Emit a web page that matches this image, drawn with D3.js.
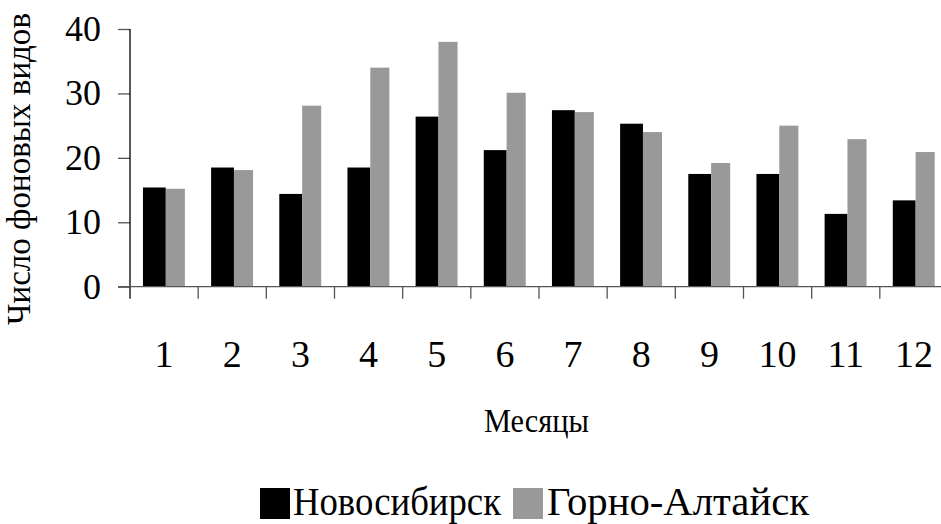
<!DOCTYPE html>
<html>
<head>
<meta charset="utf-8">
<script src="https://cdn.jsdelivr.net/npm/d3@7"></script>
<style>
  body { margin: 0; background: #fff; }
  svg { display: block; }
</style>
</head>
<body>
<div class="chart"></div>
<script>
const months = ["1", "2", "3", "4", "5", "6", "7", "8", "9", "10", "11", "12"];
const novosibirsk = [15.4, 18.5, 14.4, 18.5, 26.4, 21.2, 27.4, 25.3, 17.5, 17.5, 11.3, 13.4];
const gornoAltaysk = [15.2, 18.1, 28.1, 34.0, 38.0, 30.1, 27.1, 24.0, 19.2, 25.0, 22.9, 20.9];
const yTicks = [0, 10, 20, 30, 40];
const seriesNames = ["Новосибирск", "Горно-Алтайск"];
const seriesColors = ["#000000", "#999999"];

const width = 941, height = 524;
const serif = "'Liberation Serif'";

const svg = d3.select(".chart").append("svg")
    .attr("width", width)
    .attr("height", height)
    .attr("viewBox", [0, 0, width, height]);

const x = d3.scaleBand().domain(months).range([130, 948]);
const y = d3.scaleLinear().domain([0, 40]).range([286.7, 29]);
const bw = x.bandwidth();

// bars: black one a bit wider than the grey one, as in the picture
const bars = svg.append("g");
bars.selectAll("rect.nsk")
    .data(months)
    .join("rect")
    .attr("class", "nsk")
    .attr("x", d => x(d) + bw * 0.19)
    .attr("width", bw * 0.335)
    .attr("y", (d, i) => y(novosibirsk[i]))
    .attr("height", (d, i) => y(0) - y(novosibirsk[i]))
    .attr("fill", seriesColors[0]);

bars.selectAll("rect.ga")
    .data(months)
    .join("rect")
    .attr("class", "ga")
    .attr("x", d => x(d) + bw * 0.525)
    .attr("width", bw * 0.28)
    .attr("y", (d, i) => y(gornoAltaysk[i]))
    .attr("height", (d, i) => y(0) - y(gornoAltaysk[i]))
    .attr("fill", seriesColors[1]);

/* y axis */
const yAxis = svg.append("g")
    .attr("transform", "translate(130,0)")
    .call(d3.axisLeft(y).tickValues(yTicks).tickSize(12).tickPadding(17))
    .call(g => g.select(".domain").remove());
yAxis.selectAll(".tick line").attr("stroke", "#555").attr("stroke-width", 1.3);
yAxis.selectAll(".tick text")
    .style("font-family", serif)
    .style("font-size", "36px")
    .attr("fill", "#000");

svg.append("line")
    .attr("x1", 130).attr("x2", 130)
    .attr("y1", y(40)).attr("y2", y(0) + 12)
    .attr("stroke", "#000").attr("stroke-width", 1.3);

/* x axis */
svg.append("line")
    .attr("x1", 118).attr("x2", 948)
    .attr("y1", y(0)).attr("y2", y(0))
    .attr("stroke", "#555").attr("stroke-width", 1.3);

svg.append("g").selectAll("line")
    .data(months.slice(1))
    .join("line")
    .attr("x1", d => x(d)).attr("x2", d => x(d))
    .attr("y1", y(0)).attr("y2", y(0) + 12)
    .attr("stroke", "#555").attr("stroke-width", 1.3);

svg.append("g").selectAll("text")
    .data(months)
    .join("text")
    .attr("x", d => x(d) + bw / 2)
    .attr("y", 367)
    .attr("text-anchor", "middle")
    .style("font-family", serif)
    .style("font-size", "38px")
    .text(d => d);

/* titles */
svg.append("text")
    .attr("transform", "translate(30,169) rotate(-90)")
    .attr("text-anchor", "middle")
    .attr("textLength", 312)
    .attr("lengthAdjust", "spacingAndGlyphs")
    .style("font-family", serif)
    .style("font-size", "33px")
    .text("Число фоновых видов");

svg.append("text")
    .attr("x", 536.5)
    .attr("y", 432)
    .attr("text-anchor", "middle")
    .attr("textLength", 105)
    .attr("lengthAdjust", "spacingAndGlyphs")
    .style("font-family", serif)
    .style("font-size", "33px")
    .text("Месяцы");

/* legend */
const legend = [
    {sx: 260, tx: 293, len: 208},
    {sx: 513, tx: 547, len: 262}
];
const lg = svg.append("g");
lg.selectAll("rect")
    .data(seriesNames)
    .join("rect")
    .attr("x", (d, i) => legend[i].sx)
    .attr("y", 488)
    .attr("width", 30)
    .attr("height", 31)
    .attr("fill", (d, i) => seriesColors[i]);
lg.selectAll("text")
    .data(seriesNames)
    .join("text")
    .attr("x", (d, i) => legend[i].tx)
    .attr("y", 515)
    .attr("textLength", (d, i) => legend[i].len)
    .attr("lengthAdjust", "spacingAndGlyphs")
    .style("font-family", serif)
    .style("font-size", "40px")
    .text(d => d);
</script>
</body>
</html>
